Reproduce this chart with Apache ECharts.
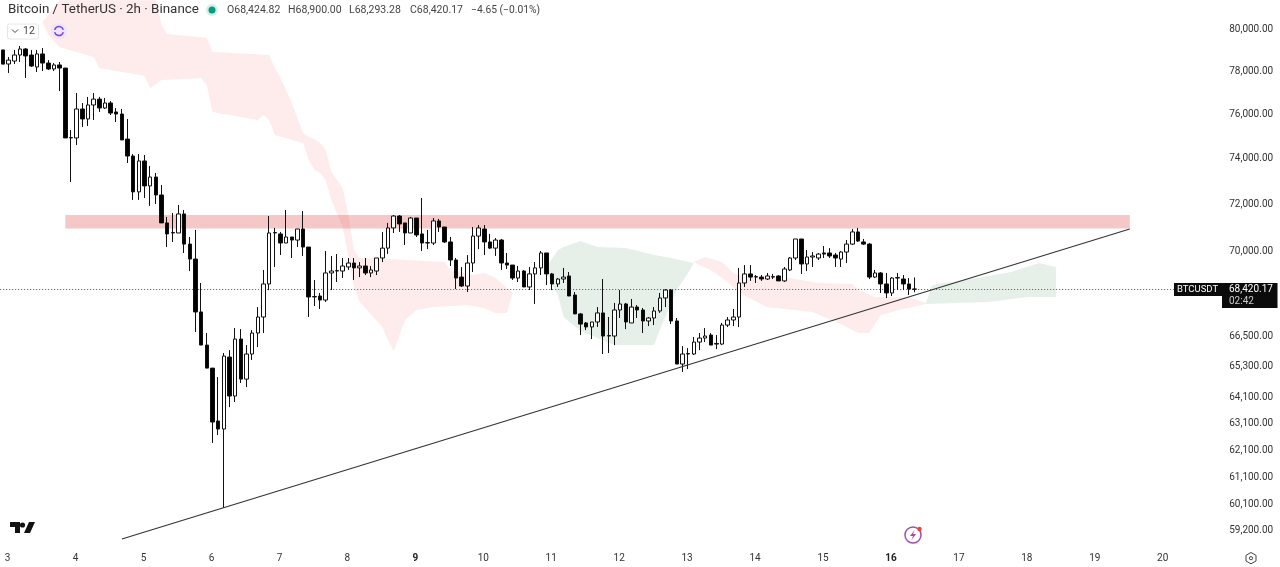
<!DOCTYPE html>
<html><head><meta charset="utf-8">
<style>html,body{margin:0;padding:0;background:#fff}#c{width:1280px;height:567px}</style>
<script src="https://cdn.jsdelivr.net/npm/echarts@6/dist/echarts.min.js"></script>
</head><body><div id="c"></div>
<script>
const opens=[79000,78335,78475,78760,79045,78760,78195,78810,78380,78100,78290,78145,74930,74930,76245,75790,76430,76700,76290,76520,76110,76015,74880,74120,72540,73900,72800,73190,72405,71200,70770,70770,71585,70300,69670,67490,66160,65250,63210,62905,65685,64165,66400,64820,65805,66640,67285,68635,70770,70730,70345,70600,70470,70940,70175,68100,68140,67975,69090,69170,69170,69340,69505,69300,69380,69090,69170,69715,70130,70985,71495,71200,70770,71410,70730,70345,70345,71285,71025,70390,69630,68920,68550,69505,70640,70940,70390,70130,70470,69505,69420,68880,69170,68510,69050,69300,69925,69050,68635,68840,68965,68180,67410,67045,66885,67085,67450,66520,66520,67570,67815,67045,67690,67570,67125,67245,67530,68060,68385,67125,65410,65805,65805,66280,66440,66560,66220,66200,66960,67165,67285,68675,69050,68920,68920,68840,68920,68965,68760,69215,69715,70515,69465,69755,69715,69925,69925,69840,69670,69965,70300,70815,70390,70300,68920,69090,68635,68265,68880,68840,68635,68424.82];
const closes=[78330,78520,78760,79045,78715,78240,78810,78380,78100,78290,78145,74930,74950,76245,75790,76430,76700,76290,76520,76060,76015,74840,74120,72540,73900,72800,73190,72405,71200,70730,70790,71585,70300,69670,67490,66160,65250,63170,62905,65725,64165,66400,64820,65805,66640,67285,68635,70770,70790,70345,70600,70470,70940,70175,68100,68120,67975,69090,69170,69190,69380,69505,69300,69380,69090,69215,69715,70130,70985,71495,71155,70770,71410,70685,70345,70365,71285,71025,70390,69630,68880,68550,69505,70640,70985,70390,70130,70470,69505,69420,68880,69170,68510,69050,69300,69925,69050,68635,68840,68920,68140,67410,67000,66885,67085,67450,66520,66540,67570,67815,67085,67690,67570,67125,67245,67530,68060,68385,67125,65410,65805,65825,66280,66440,66520,66160,66200,66960,67165,67285,68675,69050,68920,68940,68840,68965,68940,68760,69255,69715,70515,69465,69755,69800,69880,69880,69800,69715,69965,70300,70815,70430,70300,68920,69090,68635,68265,68880,68900,68635,68425,68420.17];
const lows=[78330,77915,78335,78430,77680,78195,77960,78005,78050,78005,77075,74930,72970,74610,75425,75470,75740,76110,76245,75970,75650,74840,73810,72190,72190,72275,71930,72015,71200,70175,70390,70770,69925,69170,66680,66160,65250,62380,62680,59990,63740,63935,64670,64510,65570,66080,66640,68385,69340,69840,70345,69715,70175,69800,67285,67730,67610,67895,68385,68715,68880,69215,68800,68920,69005,68920,69005,69545,69880,70770,70815,70260,70770,70600,70010,70090,70260,70815,70345,69380,68425,68510,68305,69130,70090,69840,70090,69800,69215,69255,68800,68715,68510,68385,67815,69005,68590,68385,68510,68675,68140,67410,66560,66760,66400,66885,65805,65845,66160,67245,66800,67045,67245,66640,66920,66960,67450,67690,67000,65410,65100,65215,65765,65960,66280,66160,66000,66160,66880,66920,66880,68510,68760,68675,68760,68800,68840,68760,68715,69170,69630,69050,69170,69340,69630,69715,69715,69340,69340,69505,70260,70390,70260,68840,68880,68265,68060,68140,68385,68385,68180,68293.28];
const highs=[79000,78665,79000,79190,79090,79000,79000,79090,78520,78380,78430,78145,75290,76980,76520,76800,76980,76800,76750,76610,76290,76245,75790,74210,74210,74165,73680,73370,72840,71455,71625,71970,71755,70600,70900,68675,66640,65250,64900,65845,65960,66840,66800,66160,66760,67690,69215,71495,70985,70815,71755,70600,70940,71710,70175,68800,68265,70010,69800,69880,69715,69715,69715,69545,69715,69380,69715,70815,71200,71540,71540,71200,71455,71410,72275,70900,71410,71370,71025,70600,69715,69340,69840,71025,71110,71110,70730,70555,70515,69925,69420,69380,69215,69340,69545,70010,69925,69090,68880,69300,69130,68305,67450,67085,67085,67690,68840,67285,67855,68385,67855,68020,67770,67650,67285,67690,68265,68425,68425,67245,66120,66040,66480,66640,66840,66640,66560,67045,67285,67610,69300,69420,69420,69005,69005,69090,69050,69005,69340,69755,70515,70515,70050,69965,69925,70220,70130,69925,70010,70470,70940,70985,70515,70345,69215,69130,69090,68920,69090,69005,68880,68900];

const dayLabels=['3','4','5','6','7','8','9','10','11','12','13','14','15','16','17','18','19','20'];
const boldDays=['9','16'];
const priceTicks=[80000,78000,76000,74000,72000,70000,66500,65300,64100,63100,62100,61100,60100,59200];
const lastPrice=68420.17;

const cloudRed1=[[7,80340],[10,81400],[27,81400],[28,80190],[29,79760],[36,79570],[37,78900],[47,78760],[48,78145],[49,77680],[51,76520],[53,75150],[54,74975],[55,74880],[56,74700],[57,74390],[58,73410],[59,73060],[60,72710],[61,71540],[62,70050],[63,69715],[68,69670],[78,69545],[79,69215],[83,69005],[85,69090],[87,68880],[89,68465],[90,68265],[89,67450],[87,67450],[85,67650],[82,67770],[76,67690],[73,67570],[71,67165],[69,65925],[68,66360],[67,66880],[63,67895],[62,68510],[61,69755],[60,71025],[59,71585],[58,72190],[57,73060],[56,73370],[55,73500],[54,73945],[53,74700],[48,75060],[47,75740],[46,75970],[45,75740],[37,76110],[36,77350],[35,77680],[28,77585],[26,77210],[25,77780],[17,78145],[16,78665],[10,79140],[8,79710]];
const cloudGreen1=[[96,69340],[98,70050],[99,70175],[102,70430],[105,70175],[110,70130],[115,69840],[118,69715],[122,69505],[121,69090],[119,68385],[116,66760],[115,66160],[108,66160],[105,66440],[102,66720],[99,67285],[98,68180],[97,68590],[96,69215]];
const cloudRed2=[[122,69545],[124,69755],[127,69545],[129,69090],[131,68920],[139,68880],[144,68675],[150,68635],[151,68385],[154,68100],[160,68100],[163,67855],[163,67815],[159,67610],[155,67365],[153,66640],[151,66640],[148,67000],[143,67490],[135,67690],[130,68265],[128,68715],[125,69215],[123,69420]];
const cloudGreen2=[[163,67855],[164,68550],[165,68635],[171,68840],[178,69130],[183,69505],[186,69340],[186,68100],[181,68100],[174,67895],[168,67855],[163,67815]];
const resistanceZone=[[11,71540],[199,71540],[199,70960],[11,70960]];
const trendLine=[[21,58880],[199,70940]];

const categories=[];
for(let i=0;i<216;i++){categories.push(i%12===1?(dayLabels[(i-1)/12]||''):'');}
const candles=opens.map((o,i)=>[o,closes[i],lows[i],highs[i]]);

function band(points,color,z){
  return {type:'custom',coordinateSystem:'cartesian2d',silent:true,z:z,clip:false,
    data:[[points[0][0],points[0][1]]],encode:{x:0,y:1},
    renderItem:function(p,api){
      return {type:'polygon',shape:{points:points.map(q=>api.coord(q))},style:{fill:color,stroke:null}};
    }};
}
const INK='#333';
const FONT='Roboto';
function txt(x,y,s,size,fill,extra){
  return {type:'text',x:x,y:y,z:50,silent:true,style:Object.assign({text:s,fontFamily:FONT,fontSize:size,fill:fill||INK,textVerticalAlign:'middle'},extra||{})};
}
const graphics=[
  txt(8,10,'Bitcoin / TetherUS · 2h · Binance',13.4,'#333'),
  {type:'circle',z:50,silent:true,shape:{cx:212,cy:10,r:6},style:{fill:'#d5efe8'}},
  {type:'circle',z:51,silent:true,shape:{cx:212,cy:10,r:3.5},style:{fill:'#089981'}},
  txt(227,10,'O68,424.82',10.5,'#444'),
  txt(288,10,'H68,900.00',10.5,'#444'),
  txt(349,10,'L68,293.28',10.5,'#444'),
  txt(410,10,'C68,420.17',10.5,'#444'),
  txt(471,10,'−4.65 (−0.01%)',10.3,'#444'),
  {type:'rect',z:50,silent:true,shape:{x:7.5,y:24,width:31,height:15,r:2},style:{fill:'#fff',stroke:'#e6e6e6',lineWidth:1}},
  {type:'polyline',z:51,silent:true,shape:{points:[[12,29.5],[15,32.5],[18,29.5]]},style:{stroke:'#444',fill:null,lineWidth:1}},
  txt(23,31,'12',10.5,'#444'),
  {type:'circle',z:50,silent:true,shape:{cx:59,cy:31,r:8},style:{fill:'#eee5fa'}},
  {type:'arc',z:51,silent:true,shape:{cx:59,cy:31,r:4.5,startAngle:0.3,endAngle:2.9},style:{stroke:'#7b3fe4',fill:null,lineWidth:1.5}},
  {type:'arc',z:51,silent:true,shape:{cx:59,cy:31,r:4.5,startAngle:3.4,endAngle:6},style:{stroke:'#7b3fe4',fill:null,lineWidth:1.5}},
  {type:'polygon',z:50,silent:true,shape:{points:[[10,522],[20,522],[20,533],[15,533],[15,527],[10,527]]},style:{fill:'#111'}},
  {type:'circle',z:50,silent:true,shape:{cx:22.5,cy:525,r:2.6},style:{fill:'#111'}},
  {type:'polygon',z:50,silent:true,shape:{points:[[29,522],[35,522],[30,533],[24,533]]},style:{fill:'#111'}},
  {type:'circle',z:50,silent:true,shape:{cx:913,cy:535,r:8},style:{fill:'#fff',stroke:'#9c4fb0',lineWidth:1.5}},
  {type:'polygon',z:51,silent:true,shape:{points:[[914.5,530],[910,536],[913,536],[911.5,540],[916,534],[913,534]]},style:{fill:'#b0479f'}},
  {type:'circle',z:52,silent:true,shape:{cx:919.5,cy:529,r:2.2},style:{fill:'#f0413c'}},
  {type:'polygon',z:50,silent:true,shape:{points:[[1251,552.5],[1256,555.3],[1256,561],[1251,563.8],[1246,561],[1246,555.3]]},style:{fill:'#fff',stroke:'#444',lineWidth:1}},
  {type:'circle',z:51,silent:true,shape:{cx:1251,cy:558.2,r:1.6},style:{fill:'#fff',stroke:'#444',lineWidth:1}},
  {type:'rect',z:50,silent:true,shape:{x:1174,y:283,width:48,height:13},style:{fill:'#0b0b0b'}},
  txt(1177,290,'BTCUSDT',9.5,'#fff'),
  {type:'rect',z:50,silent:true,shape:{x:1222,y:283,width:55.5,height:25},style:{fill:'#0b0b0b'}},
  txt(1229,289.5,'68,420.17',10,'#fff'),
  txt(1229,301,'02:42',10,'#ccc')
];
const chart=echarts.init(document.getElementById('c'),null,{renderer:'canvas'});
chart.setOption({
  animation:false,
  backgroundColor:'#fff',
  grid:{left:-0.83,top:0,width:1224,height:548,containLabel:false},
  xAxis:{type:'category',data:categories,boundaryGap:true,
    axisLine:{show:false},axisTick:{show:false},splitLine:{show:false},
    axisLabel:{interval:0,margin:5,padding:[0,2,0,0],fontFamily:FONT,fontSize:10,color:INK,hideOverlap:false,
      formatter:v=>v===''?'':(boldDays.includes(v)?'{b|'+v+'}':v),
      rich:{b:{fontWeight:'bold',fontFamily:FONT,fontSize:10,color:'#222'}}}},
  yAxis:{type:'log',position:'right',min:58564,max:81407,
    axisLine:{show:false},axisTick:{show:false},splitLine:{show:false},minorTick:{show:false},minorSplitLine:{show:false},
    axisLabel:{margin:6,fontFamily:FONT,fontSize:10,color:INK,customValues:priceTicks,showMinLabel:true,showMaxLabel:true,
      formatter:v=>Number(v).toLocaleString('en-US',{minimumFractionDigits:2,maximumFractionDigits:2})}},
  series:[
    band(cloudRed1,'rgba(242,54,69,0.10)',1),
    band(cloudGreen1,'rgba(60,140,80,0.13)',1),
    band(cloudRed2,'rgba(242,54,69,0.10)',1),
    band(cloudGreen2,'rgba(60,140,80,0.13)',1),
    band(resistanceZone,'rgba(225,70,70,0.30)',2),
    {type:'candlestick',data:candles,barWidth:4,z:5,silent:true,
      itemStyle:{color:'#ffffff',color0:'#000000',borderColor:'#111111',borderColor0:'#111111',borderWidth:1},
      markLine:{silent:true,symbol:'none',animation:false,label:{show:false},
        lineStyle:{type:[1,2],color:'#555',width:1},data:[{yAxis:lastPrice}]}},
    {type:'line',data:trendLine,showSymbol:false,silent:true,z:6,lineStyle:{color:'#333',width:1.1}}
  ],
  graphic:graphics
});
</script></body></html>
